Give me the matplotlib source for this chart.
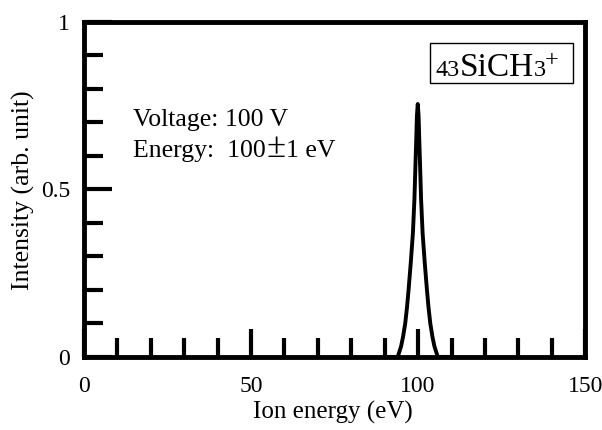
import numpy as np
import matplotlib.pyplot as plt
from matplotlib.patches import Rectangle

plt.rcParams['font.family'] = ['Liberation Serif', 'DejaVu Serif']

# peak points (eV, arb. unit)
energy = [90.0, 93.9, 94.9, 95.5, 96.15, 96.7, 97.15, 97.8, 98.45, 98.9,
          99.2, 99.45, 99.65, 99.9, 100.15, 100.35, 100.6, 100.9, 101.35,
          102.0, 102.65, 103.1, 103.65, 104.3, 104.9, 105.9, 110.0]
intensity = [0.0, 0.0, 0.031, 0.06, 0.10, 0.15, 0.20, 0.28, 0.37, 0.47,
             0.57, 0.65, 0.72, 0.755, 0.72, 0.65, 0.57, 0.47, 0.37,
             0.28, 0.20, 0.15, 0.10, 0.06, 0.031, 0.0, 0.0]

x_major = [0, 50, 100, 150]
x_minor = [10, 20, 30, 40, 60, 70, 80, 90, 110, 120, 130, 140]
y_major = [0, 0.5, 1]
y_labels = ['0', '0.5', '1']
y_minor = [0.1, 0.2, 0.3, 0.4, 0.6, 0.7, 0.8, 0.9]

fig = plt.figure(figsize=(6.02, 4.30), dpi=100)
ax = fig.add_subplot(111)
fig.subplots_adjust(left=0.1395, right=0.972, top=0.949, bottom=0.170)

ax.plot(energy, intensity, color='k', lw=2.8, solid_joinstyle='round')

ax.set_xlim(0, 150)
ax.set_ylim(0, 1)
ax.set_xticks(x_major)
ax.set_xticks(x_minor, minor=True)
ax.set_yticks(y_major)
ax.set_yticklabels(y_labels)
ax.set_yticks(y_minor, minor=True)

ax.tick_params(which='major', direction='in', length=20, width=3, labelsize=17)
ax.tick_params(axis='x', which='major', pad=14)
ax.tick_params(axis='y', which='major', pad=10)
ax.tick_params(which='minor', direction='in', length=13.5, width=3)
for s in ax.spines.values():
    s.set_linewidth(3.5)

ax.set_xlabel('Ion energy (eV)', fontsize=18)
ax.set_ylabel('Intensity (arb. unit)', fontsize=18.5)
ax.xaxis.set_label_coords(0.496, -0.13)
ax.yaxis.set_label_coords(-0.097, 0.498)

ax.text(0.098, 0.690, 'Voltage: 100 V', transform=ax.transAxes, fontsize=18.5)
t1 = ax.text(0.098, 0.598, 'Energy:  100', transform=ax.transAxes,
             fontsize=18.5)
t2 = ax.annotate('\u00b1', xy=(1, 0.598), xycoords=(t1, 'axes fraction'),
                 xytext=(0.3, 0), textcoords='offset points',
                 fontsize=25, va='baseline')
ax.annotate('1 eV', xy=(1, 0.598), xycoords=(t2, 'axes fraction'),
            xytext=(0.5, 0), textcoords='offset points',
            fontsize=18.5, va='baseline')

# label box: 43SiCH3+
ax.add_patch(Rectangle((0.691, 0.818), 0.285, 0.119, transform=ax.transAxes,
                       fill=False, lw=1.0, color='k'))
base = 0.8388
p1 = ax.text(0.7006, base, '43', transform=ax.transAxes, fontsize=17.5)
p2 = ax.annotate('SiCH', xy=(1, base), xycoords=(p1, 'axes fraction'),
                 fontsize=24, va='baseline')
p3 = ax.annotate('3', xy=(1, base), xycoords=(p2, 'axes fraction'),
                 fontsize=17.5, va='baseline')
ax.annotate('+', xy=(1, base + 0.03), xycoords=(p3, 'axes fraction'),
            xytext=(-0.5, 0), textcoords='offset points',
            fontsize=17.5, va='baseline')

plt.savefig('out.png')
